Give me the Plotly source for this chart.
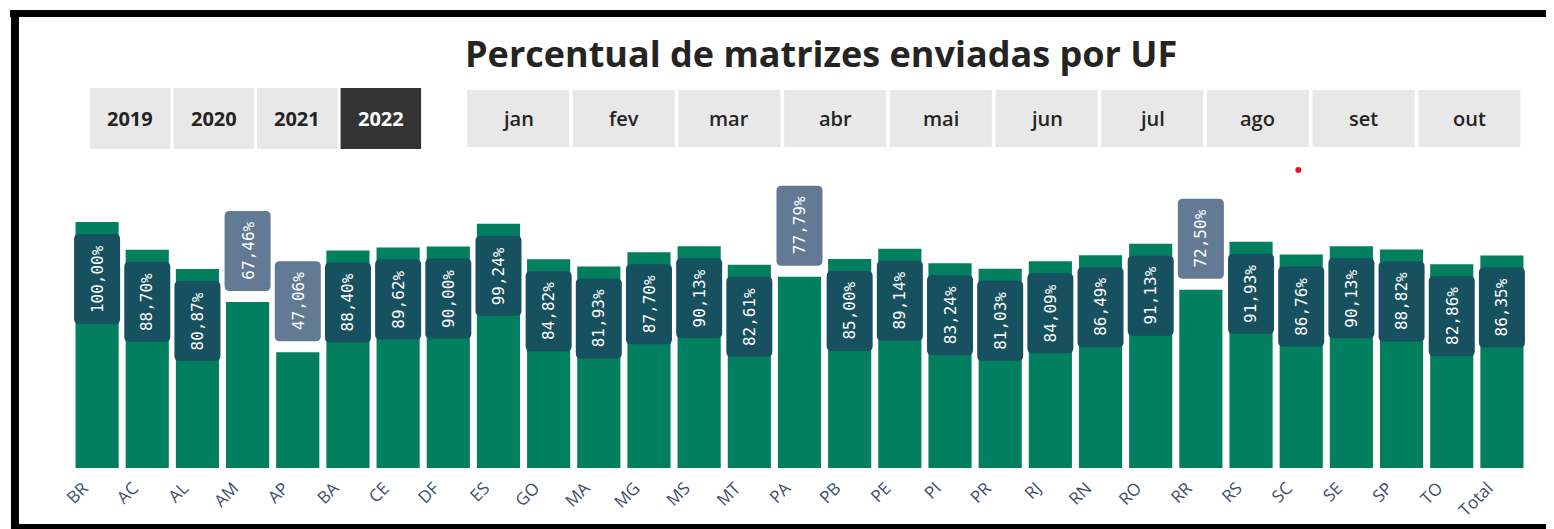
import plotly.graph_objects as go

# ---------------- data ----------------
categories = ["BR", "AC", "AL", "AM", "AP", "BA", "CE", "DF", "ES", "GO", "MA", "MG", "MS", "MT",
              "PA", "PB", "PE", "PI", "PR", "RJ", "RN", "RO", "RR", "RS", "SC", "SE", "SP", "TO", "Total"]
percent_sent = [100.00, 88.70, 80.87, 67.46, 47.06, 88.40, 89.62, 90.00, 99.24, 84.82, 81.93, 87.70,
                90.13, 82.61, 77.79, 85.00, 89.14, 83.24, 81.03, 84.09, 86.49, 91.13, 72.50, 91.93,
                86.76, 90.13, 88.82, 82.86, 86.35]
year_buttons = ["2019", "2020", "2021", "2022"]
selected_year = "2022"
month_buttons = ["jan", "fev", "mar", "abr", "mai", "jun", "jul", "ago", "set", "out"]
title_text = "Percentual de matrizes enviadas por UF"

# ---------------- style ----------------
W, H = 1554, 529
OFF = 8  # page body margin offset
# plot area in page pixels: left 72, right 1526.6, top 160, bottom 468
ML = 72 - OFF
MR = W - (1526.6 - OFF)
MT = 160 - OFF
MB = H - (468 - OFF)
PW = W - ML - MR
PH = H - MT - MB
PX_PER_UNIT = 2.46
YMAX = PH / PX_PER_UNIT

GREEN = "#017F5F"
DARK_BOX = "#17505F"
LIGHT_BOX = "#627A94"
BTN_BG = "#E8E8E8"
BTN_SEL = "#333333"
TXT = "#252423"


def xp(px):
    return (px - OFF - ML) / PW


def yp(py):
    return (H - MB - (py - OFF)) / PH


def fmt(v):
    return f"{v:.2f}%".replace(".", ",")


def rrect(x0, y0, x1, y1, r):
    f = lambda a: f"{a:.2f}"
    return (f"M {f(x0 + r)},{f(y0)} L {f(x1 - r)},{f(y0)} Q {f(x1)},{f(y0)} {f(x1)},{f(y0 + r)} "
            f"L {f(x1)},{f(y1 - r)} Q {f(x1)},{f(y1)} {f(x1 - r)},{f(y1)} "
            f"L {f(x0 + r)},{f(y1)} Q {f(x0)},{f(y1)} {f(x0)},{f(y1 - r)} "
            f"L {f(x0)},{f(y0 + r)} Q {f(x0)},{f(y0)} {f(x0 + r)},{f(y0)} Z")


fig = go.Figure(go.Bar(x=categories, y=percent_sent, marker_color=GREEN, marker_line_width=0,
                       width=0.86, hoverinfo="skip"))

shapes = []
annotations = []

# data labels in rounded boxes
for cat, v in zip(categories, percent_sent):
    txt = fmt(v)
    h = 10 * len(txt) + 20
    if v >= 80:
        y0, y1, col = -(12 + h), -12, DARK_BOX
    else:
        y0, y1, col = 11, 11 + h, LIGHT_BOX
    shapes.append(dict(type="path", xref="x", yref="y", xsizemode="pixel", ysizemode="pixel",
                       xanchor=cat, yanchor=v, path=rrect(-23, y0, 23, y1, 5),
                       fillcolor=col, line=dict(width=0), layer="above"))
    annotations.append(dict(x=cat, y=v, xref="x", yref="y", yshift=(y0 + y1) / 2, text=txt,
                            textangle=-90, showarrow=False, xanchor="center", yanchor="middle",
                            font=dict(family="DejaVu Sans Mono", size=16, color="white")))

# frame (page pixel coordinates)
for (x0, x1, y0, y1) in [(10, W + 20, 10, 17), (11, 19, 10, H + 20), (11, W + 20, 524, H + 20)]:
    shapes.append(dict(type="rect", xref="paper", yref="paper", x0=xp(x0), x1=xp(x1),
                       y0=yp(y1), y1=yp(y0), fillcolor="black", line=dict(width=0)))

# title
annotations.append(dict(x=xp(821), y=yp(53), xref="paper", yref="paper", text=f"<b>{title_text}</b>",
                        showarrow=False, xanchor="center", yanchor="middle",
                        font=dict(family="Open Sans", size=36, color=TXT)))

# year buttons
for i, yr in enumerate(year_buttons):
    x0 = 90 + i * 83.5
    x1 = x0 + 80.5
    sel = yr == selected_year
    shapes.append(dict(type="rect", xref="paper", yref="paper", x0=xp(x0), x1=xp(x1),
                       y0=yp(149), y1=yp(88), fillcolor=BTN_SEL if sel else BTN_BG, line=dict(width=0)))
    annotations.append(dict(x=xp((x0 + x1) / 2), y=yp(119), xref="paper", yref="paper",
                            text=f"<b>{yr}</b>", showarrow=False, xanchor="center", yanchor="middle",
                            font=dict(family="Open Sans", size=20, color="white" if sel else TXT)))

# month buttons
for i, m in enumerate(month_buttons):
    x0 = 467 + i * 105.65
    x1 = x0 + 102
    shapes.append(dict(type="rect", xref="paper", yref="paper", x0=xp(x0), x1=xp(x1),
                       y0=yp(147), y1=yp(90), fillcolor=BTN_BG, line=dict(width=0)))
    annotations.append(dict(x=xp((x0 + x1) / 2), y=yp(119), xref="paper", yref="paper",
                            text=m, showarrow=False, xanchor="center", yanchor="middle",
                            font=dict(family="Open Sans", size=20, weight=600, color=TXT)))

# small red marker dot
shapes.append(dict(type="circle", xref="paper", yref="paper", x0=xp(1295), x1=xp(1301),
                   y0=yp(173), y1=yp(167), fillcolor="#E81123", line=dict(width=0)))

fig.update_layout(
    width=W, height=H, autosize=False,
    margin=dict(l=ML, r=MR, t=MT, b=MB, pad=0),
    paper_bgcolor="white", plot_bgcolor="white",
    showlegend=False, bargap=0.14,
    shapes=shapes, annotations=annotations,
    xaxis=dict(type="category", range=[-0.5, len(categories) - 0.5], tickangle=-45,
               showgrid=False, showline=False, zeroline=False, ticks="",
               ticklabelstandoff=6, ticklabelshift=-14,
               tickfont=dict(family="Open Sans", size=17, color="#3E4D6A"), fixedrange=True),
    yaxis=dict(range=[0, YMAX], visible=False, fixedrange=True),
)

fig.write_html("out.html")
